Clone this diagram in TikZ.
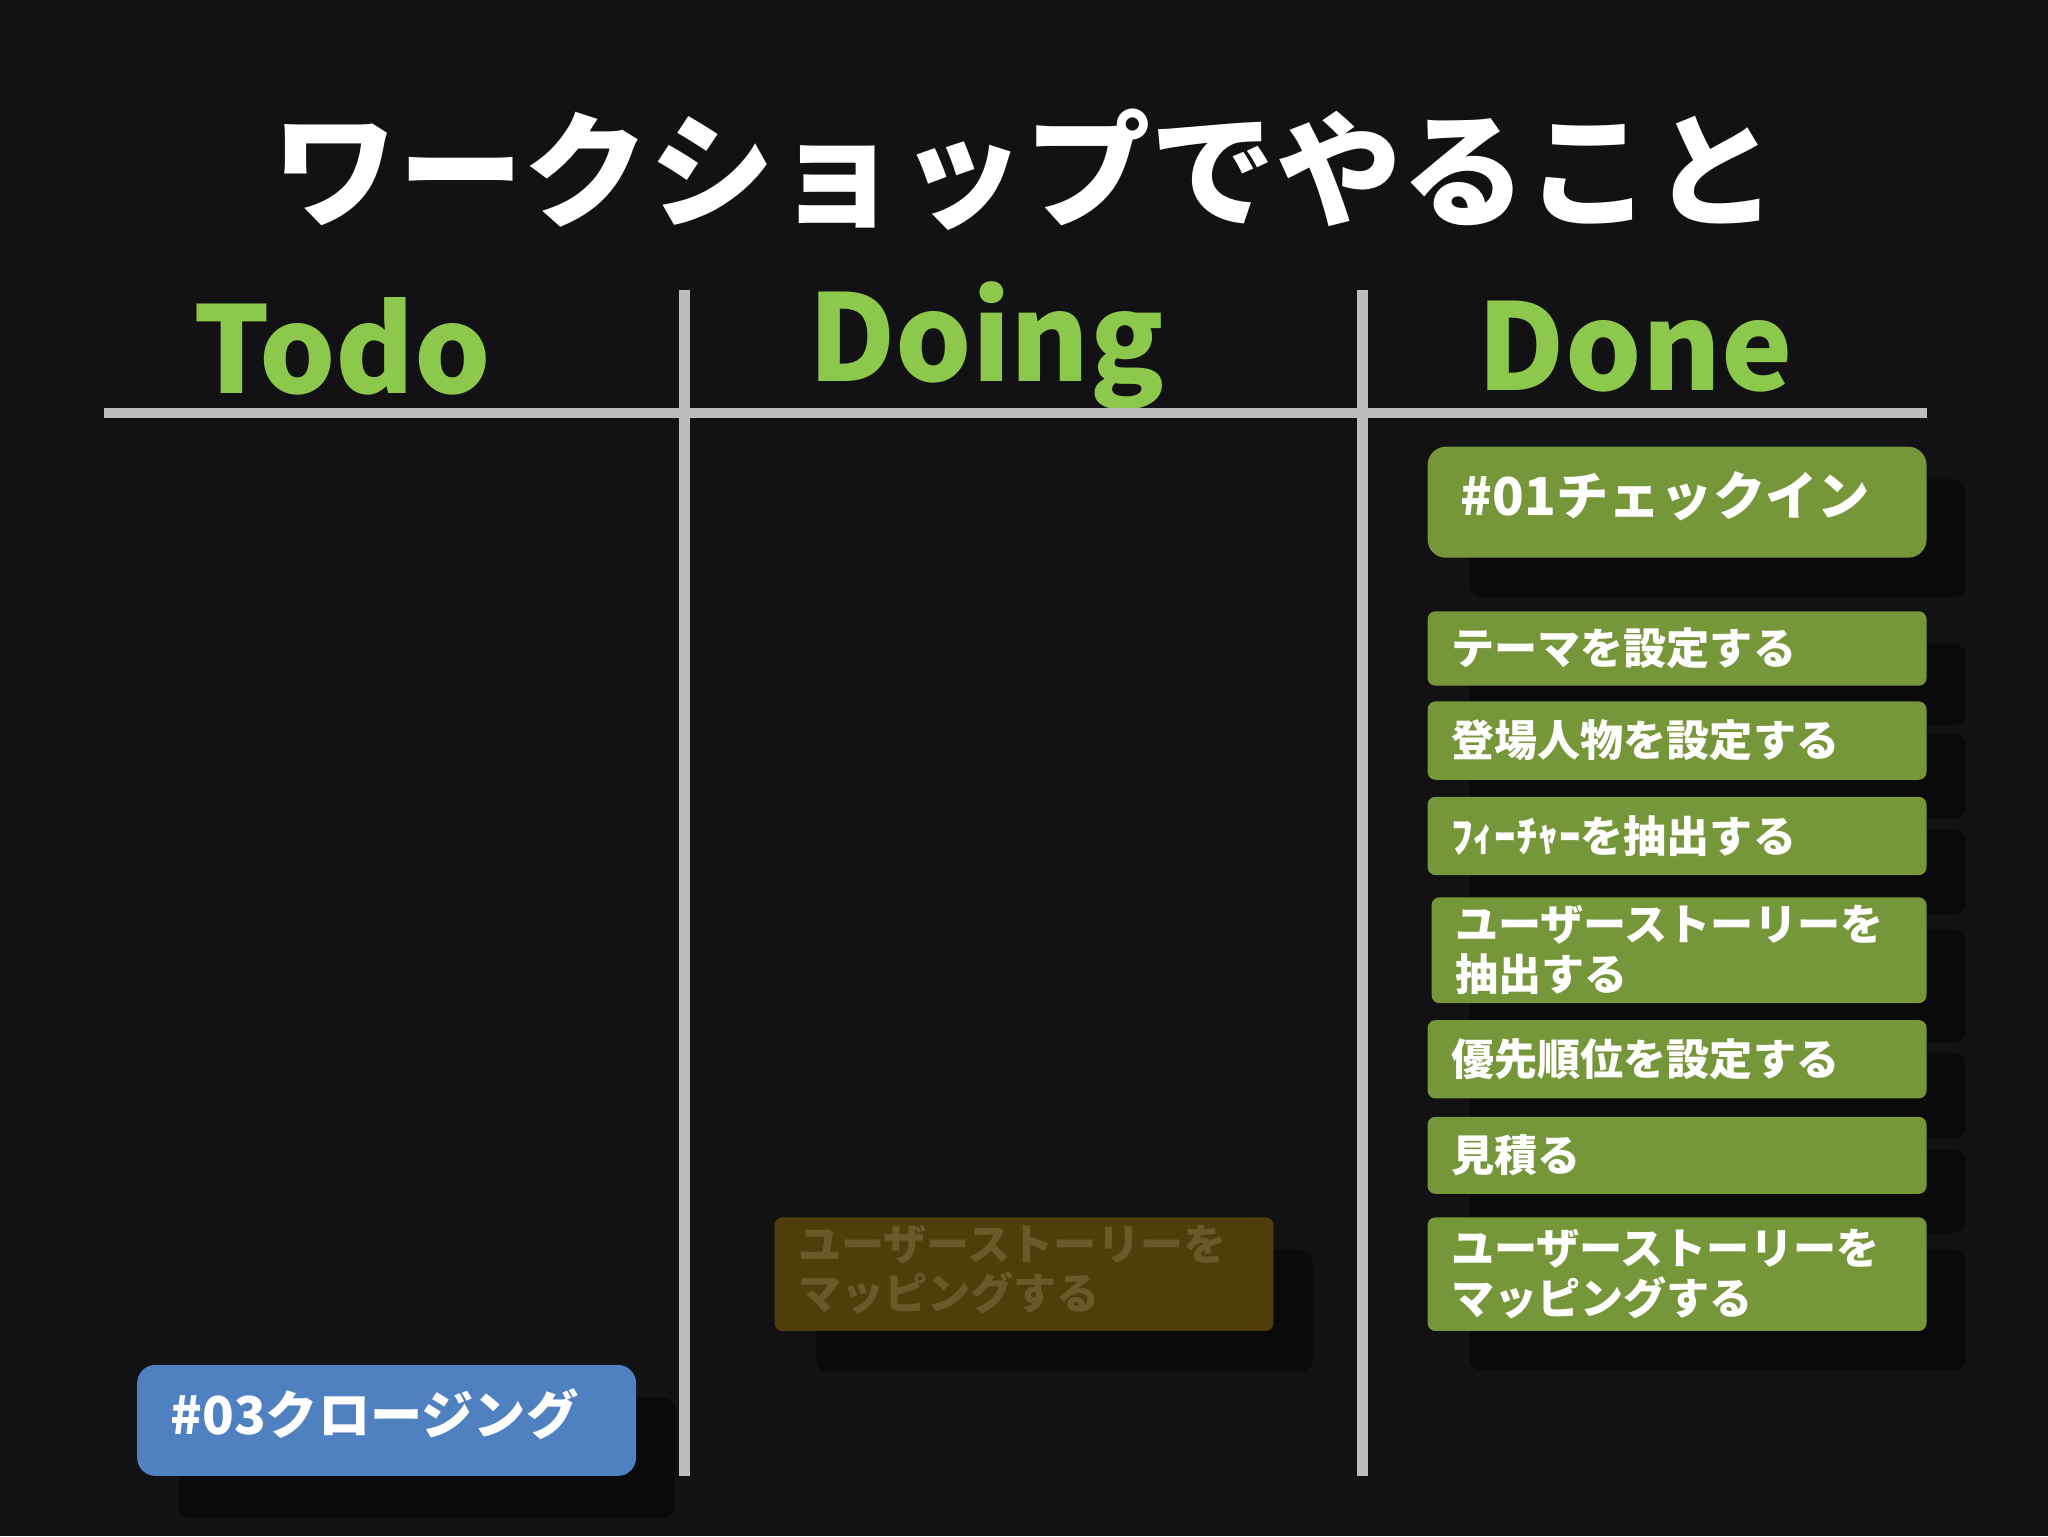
\documentclass[tikz,border=0pt]{standalone}
\usepackage{fontspec}
\setmainfont{Noto Sans CJK JP}
\definecolor{bg}{HTML}{121214}
\definecolor{hdr}{HTML}{8CC84B}
\definecolor{card}{HTML}{76963A}
\definecolor{rule}{HTML}{BDBDBD}
\definecolor{doingc}{HTML}{4F3E0C}
\definecolor{doingt}{HTML}{6A5A2A}
\definecolor{todoc}{HTML}{4F81C0}
\definecolor{shd}{HTML}{0A0A0B}
\tikzset{
 cardbox/.style={fill=card,rounded corners=9pt,text=white,font=\bfseries\fontsize{33}{38}\selectfont,align=left,anchor=north west,inner sep=0pt,text width=360pt},
 shadowbox/.style={fill=shd,rounded corners=9pt},
 hdrtext/.style={text=hdr,font=\bfseries\fontsize{92}{100}\selectfont},
 ruleline/.style={draw=rule,line width=8pt}
}
\begin{document}
\begin{tikzpicture}[x=1pt,y=-1pt]
\fill[bg] (0,0) rectangle (1568,1176);
\useasboundingbox (0,0) rectangle (1568,1176);
\node (title) at (785,130) [text=white,font=\bfseries\fontsize{96}{100}\selectfont] {ワークショップでやること};
\node (todo) at (262,265) [hdrtext] {Todo};
\node (doing) at (755,265) [hdrtext] {Doing};
\node (done) at (1252,265) [hdrtext] {Done};
\coordinate (hl) at (80,316); \coordinate (hr) at (1475,316);
\coordinate (v1t) at (524,222); \coordinate (v1b) at (524,1130);
\coordinate (v2t) at (1043,222); \coordinate (v2b) at (1043,1130);
\draw[ruleline] (hl) -- (hr);
\draw[ruleline] (v1t) -- (v1b);
\draw[ruleline] (v2t) -- (v2b);
% shadows
\foreach \a/\b in {342/427,468/525,537/597,610/670,687/768,781/841,855/914,932/1019}{
 \fill[shadowbox] (1125,\a+25) rectangle (1505,\b+30);}
\fill[shadowbox] (625,957) rectangle (1005,1050);
\fill[shadowbox] (137,1070) rectangle (517,1162);
% cards
\fill[card,rounded corners=14pt] (1093,342) rectangle (1475,427);
\node (c1) at (1115,380) [anchor=west,text=white,font=\bfseries\fontsize{40}{44}\selectfont] {\#01チェックイン};
\newcommand\mycard[5]{\fill[card,rounded corners=6pt] (#1,#2) rectangle (1475,#3);
 \node (#4) at (1111,{(#2+#3)/2}) [anchor=west,text=white,font=\bfseries\fontsize{33}{38}\selectfont,align=left,inner sep=0pt] {#5};}
\mycard{1093}{468}{525}{c2}{テーマを設定する}
\mycard{1093}{537}{597}{c3}{登場人物を設定する}
\mycard{1093}{610}{670}{c4}{ﾌｨｰﾁｬｰを抽出する}
\fill[card,rounded corners=6pt] (1096,687) rectangle (1475,768);
\node (c5) at (1114,727) [anchor=west,text=white,font=\bfseries\fontsize{33}{38}\selectfont,align=left,inner sep=0pt] {ユーザーストーリーを\\抽出する};
\mycard{1093}{781}{841}{c6}{優先順位を設定する}
\mycard{1093}{855}{914}{c7}{見積る}
\mycard{1093}{932}{1019}{c8}{ユーザーストーリーを\\マッピングする}
\fill[doingc,rounded corners=6pt] (593,932) rectangle (975,1019);
\node (d1) at (611,972) [anchor=west,text=doingt,font=\bfseries\fontsize{33}{38}\selectfont,align=left,inner sep=0pt] {ユーザーストーリーを\\マッピングする};
\fill[todoc,rounded corners=14pt] (105,1045) rectangle (487,1130);
\node (t1) at (127,1083) [anchor=west,text=white,font=\bfseries\fontsize{40}{44}\selectfont] {\#03クロージング};
\end{tikzpicture}
\end{document}
